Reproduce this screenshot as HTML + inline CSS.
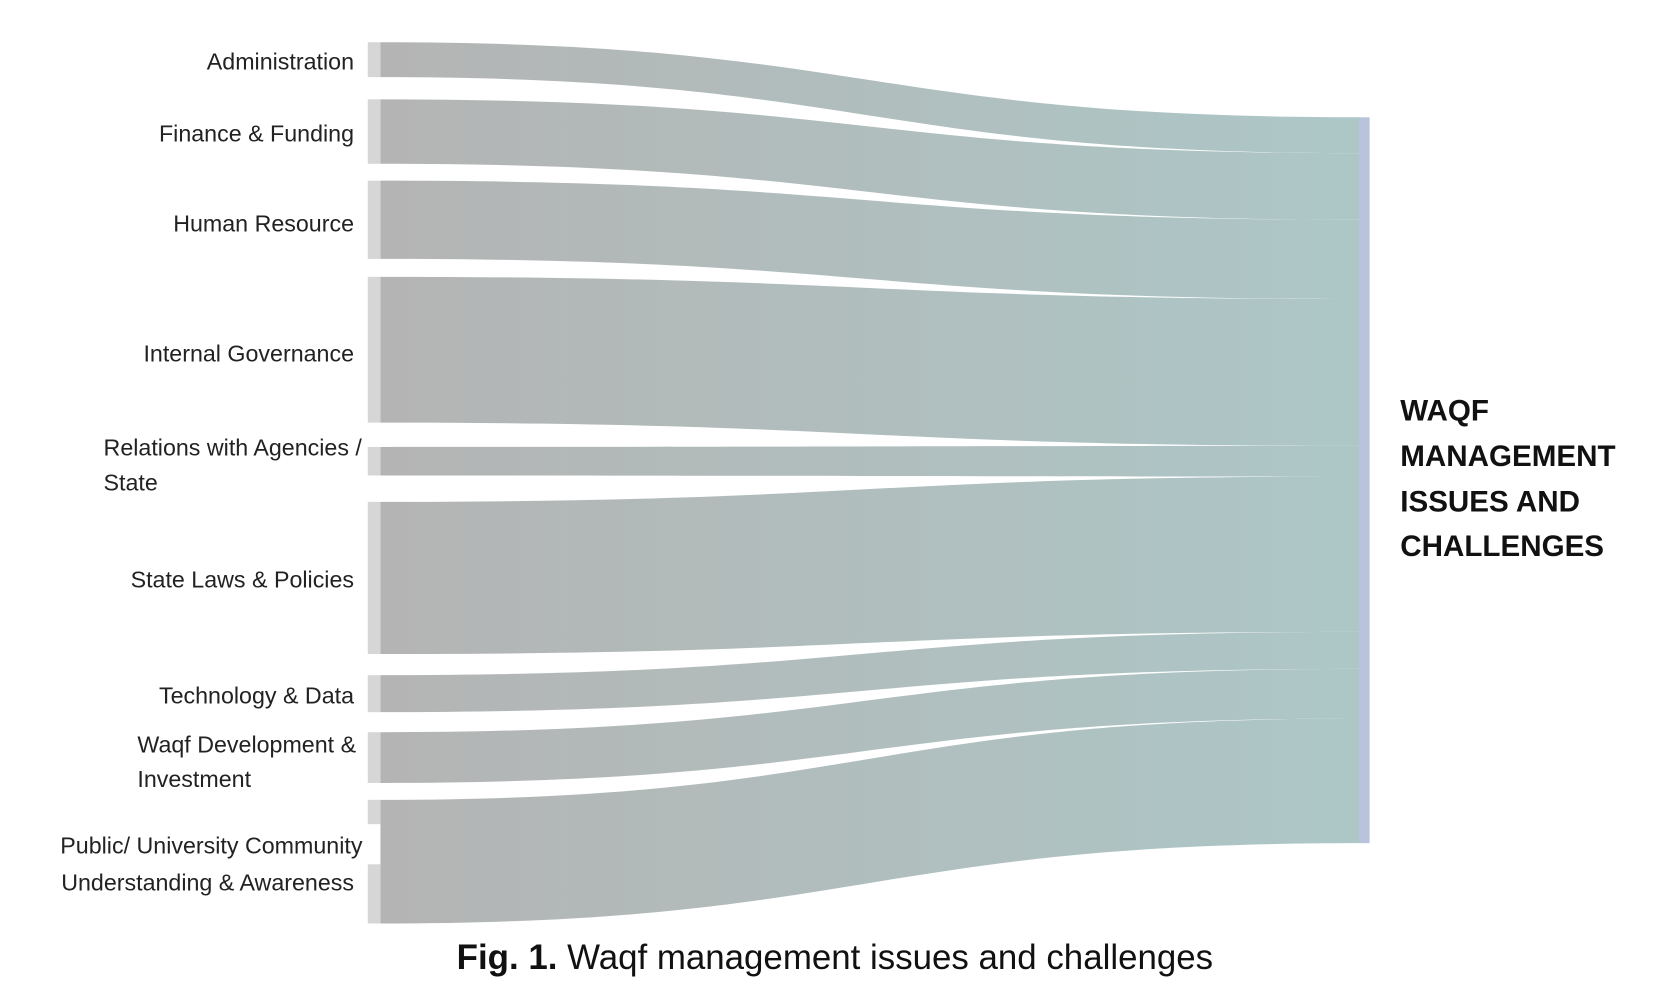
<!DOCTYPE html>
<html><head><meta charset="utf-8"><style>
html,body{margin:0;padding:0;background:#fff;}
svg{display:block}
</style></head><body>
<svg width="1656" height="1008" viewBox="0 0 1567 954" preserveAspectRatio="none" xmlns="http://www.w3.org/2000/svg">
<defs>
<linearGradient id="g" x1="360" x2="1285" y1="0" y2="0" gradientUnits="userSpaceOnUse">
<stop offset="0" stop-color="#b4b4b4"/><stop offset="1" stop-color="#adc7c7"/>
</linearGradient>
</defs>
<g fill="url(#g)">
<path d="M360,40 C820,40 820,111 1287,111 L1287,145 C820,145 820,73 360,73Z"/>
<path d="M360,94 C820,94 820,145 1287,145 L1287,208 C820,208 820,155 360,155Z"/>
<path d="M360,171 C820,171 820,208 1287,208 L1287,283 C820,283 820,245 360,245Z"/>
<path d="M360,262 C820,262 820,283 1287,283 L1287,422 C820,422 820,400 360,400Z"/>
<path d="M360,423 C820,423 820,422 1287,422 L1287,451 C820,451 820,450 360,450Z"/>
<path d="M360,475 C820,475 820,451 1287,451 L1287,598 C820,598 820,619 360,619Z"/>
<path d="M360,639 C820,639 820,598 1287,598 L1287,633 C820,633 820,674 360,674Z"/>
<path d="M360,693 C820,693 820,633 1287,633 L1287,680 C820,680 820,741 360,741Z"/>
<path d="M360,757 C820,757 820,680 1287,680 L1287,798 C820,798 820,874 360,874Z"/>
</g>
<rect x="1286" y="111" width="10" height="687" fill="#b8c3dc"/>
<g fill="#d6d6d6">
<rect x="348" y="40" width="12" height="33"/>
<rect x="348" y="94" width="12" height="61"/>
<rect x="348" y="171" width="12" height="74"/>
<rect x="348" y="262" width="12" height="138"/>
<rect x="348" y="423" width="12" height="27"/>
<rect x="348" y="475" width="12" height="144"/>
<rect x="348" y="639" width="12" height="35"/>
<rect x="348" y="693" width="12" height="48"/>
<rect x="348" y="757" width="12" height="23"/>
<rect x="348" y="818" width="12" height="56"/>
</g>
<g font-family="Liberation Sans, sans-serif" font-size="22" fill="#222" text-anchor="end">
<text x="335" y="66">Administration</text>
<text x="335" y="134">Finance &amp; Funding</text>
<text x="335" y="219">Human Resource</text>
<text x="335" y="342">Internal Governance</text>
<text x="335" y="556">State Laws &amp; Policies</text>
<text x="335" y="666">Technology &amp; Data</text>
<text x="343" y="808">Public/ University Community</text>
<text x="335" y="843">Understanding &amp; Awareness</text>
</g>
<g font-family="Liberation Sans, sans-serif" font-size="22" fill="#222">
<text x="98" y="431">Relations with Agencies /</text>
<text x="98" y="464">State</text>
<text x="130" y="712">Waqf Development &amp;</text>
<text x="130" y="745">Investment</text>
</g>
<g font-family="Liberation Sans, sans-serif" font-size="28" font-weight="bold" fill="#111">
<text x="1325" y="398">WAQF</text>
<text x="1325" y="441">MANAGEMENT</text>
<text x="1325" y="484">ISSUES AND</text>
<text x="1325" y="526">CHALLENGES</text>
</g>
<text x="790" y="917" text-anchor="middle" font-family="Liberation Sans, sans-serif" font-size="33" fill="#111"><tspan font-weight="bold">Fig. 1.</tspan> Waqf management issues and challenges</text>
</svg>
</body></html>
